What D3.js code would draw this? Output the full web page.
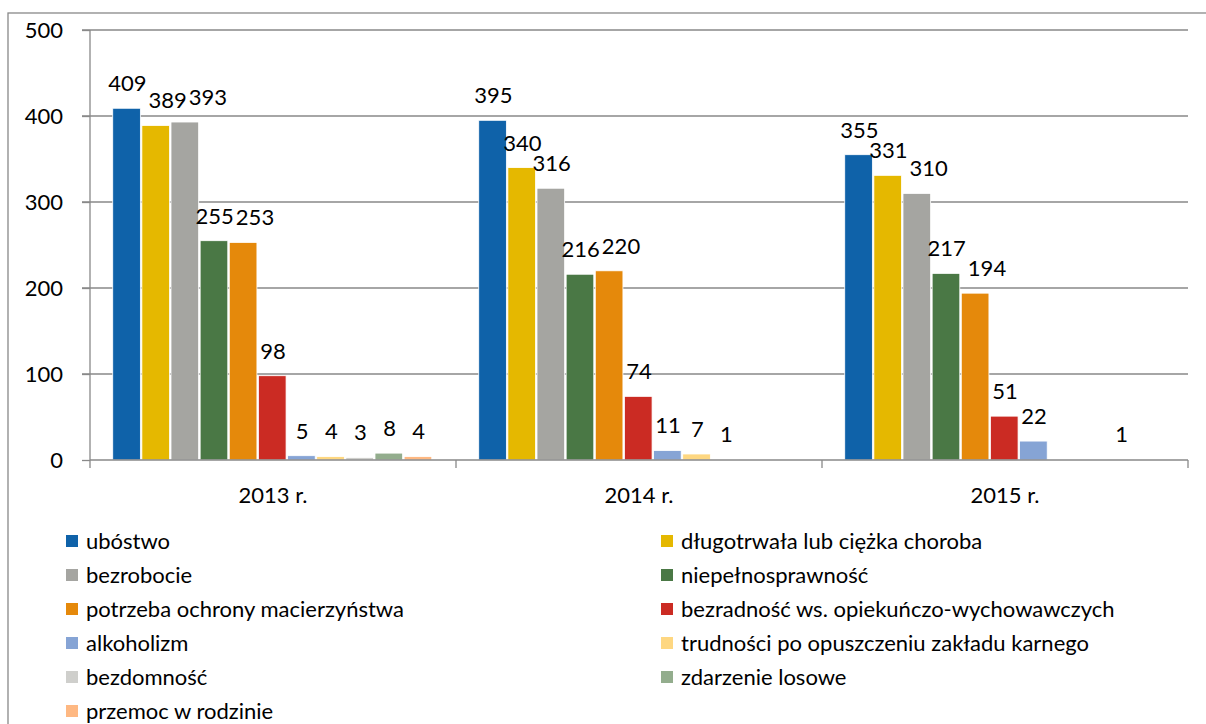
<!DOCTYPE html>
<html>
<head>
<meta charset="UTF-8">
<title>Powody udzielania pomocy</title>
<script src="https://d3js.org/d3.v7.min.js"></script>
<style>
  body { margin: 0; background: #fff; }
  svg text { font-family: Lato, "Open Sans", sans-serif; fill: #000; }
</style>
</head>
<body>
<div id="chart"></div>
<script>
// data
var years = ["2013 r.", "2014 r.", "2015 r."];
var series = [
  "ubóstwo",
  "długotrwała lub ciężka choroba",
  "bezrobocie",
  "niepełnosprawność",
  "potrzeba ochrony macierzyństwa",
  "bezradność ws. opiekuńczo-wychowawczych",
  "alkoholizm",
  "trudności po opuszczeniu zakładu karnego",
  "bezdomność",
  "zdarzenie losowe",
  "przemoc w rodzinie"
];
var colors = ["#0f62a9", "#e5b800", "#a5a5a1", "#4a7845", "#e5890b", "#cb2b23",
              "#86a4d5", "#fed781", "#cfcfcc", "#93ad8d", "#feb882"];
var values2013 = [409, 389, 393, 255, 253, 98, 5, 4, 3, 8, 4];
var values2014 = [395, 340, 316, 216, 220, 74, 11, 7, 1, null, null];
var values2015 = [355, 331, 310, 217, 194, 51, 22, null, null, 1, null];
var yTicks = [0, 100, 200, 300, 400, 500];

var data = [values2013, values2014, values2015];

var W = 1206, H = 724;
var svg = d3.select("#chart").append("svg")
    .attr("width", W).attr("height", H);

// outer frame
svg.append("rect")
    .attr("x", 8).attr("y", 13).attr("width", W).attr("height", H)
    .attr("fill", "none").attr("stroke", "#898989").attr("stroke-width", 1.3);

var plot = {left: 90, right: 1188, top: 30, bottom: 460};

var x0 = d3.scaleBand().domain(years).range([plot.left, plot.right]).padding(0);
var x1 = d3.scaleBand().domain(d3.range(series.length))
    .range([0, x0.bandwidth()]).paddingInner(0).paddingOuter(0.78);
var y = d3.scaleLinear().domain([0, 500]).range([plot.bottom, plot.top]);

// grid lines
svg.append("g").selectAll("line").data(yTicks.slice(1)).enter().append("line")
    .attr("x1", plot.left - 8).attr("x2", plot.right)
    .attr("y1", function(d) { return y(d); }).attr("y2", function(d) { return y(d); })
    .attr("stroke", "#898989").attr("stroke-width", 1.3);

// y axis
var yAxis = svg.append("g")
    .attr("transform", "translate(" + plot.left + ",0)")
    .call(d3.axisLeft(y).tickValues(yTicks).tickSize(8).tickPadding(19));
yAxis.select(".domain").remove();
yAxis.selectAll(".tick line").attr("stroke", "#898989").attr("stroke-width", 1.3);
yAxis.selectAll(".tick text").style("font-size", "22px").attr("dy", "0.36em");
svg.append("line")
    .attr("x1", plot.left).attr("x2", plot.left)
    .attr("y1", plot.top).attr("y2", plot.bottom + 8)
    .attr("stroke", "#898989").attr("stroke-width", 1.3);

// bars
var groups = svg.append("g").selectAll("g").data(data).enter().append("g")
    .attr("transform", function(d, i) { return "translate(" + x0(years[i]) + ",0)"; });

groups.selectAll("rect").data(function(d) {
    return d.map(function(v, i) { return {i: i, v: v}; }).filter(function(c) { return c.v != null; });
}).enter().append("rect")
    .attr("x", function(c) { return x1(c.i); })
    .attr("width", x1.bandwidth() - 1.5)
    .attr("y", function(c) { return y(c.v); })
    .attr("height", function(c) { return y(0) - y(c.v); })
    .attr("fill", function(c) { return colors[c.i]; })
    .attr("stroke", "#fff").attr("stroke-width", 0.8);

// value labels: centred above the bar, pushed right when they would hit the previous one
groups.each(function(d) {
    var g = d3.select(this);
    var prev = null;
    d.forEach(function(v, i) {
        if (v == null) return;
        var t = g.append("text")
            .attr("text-anchor", "middle")
            .style("font-size", "22px")
            .attr("dy", "0.36em")
            .text(v);
        var w = t.node().getComputedTextLength();
        var cx = x1(i) + x1.bandwidth() / 2;
        var cy = y(v) - 25;
        var box = {l: cx - w / 2, r: cx + w / 2, t: cy - 10, b: cy + 10};
        if (prev && box.l < prev.r && box.t < prev.b && box.b > prev.t) {
            var shift = prev.r + 2 - box.l;
            cx += shift; box.l += shift; box.r += shift;
        }
        t.attr("x", cx).attr("y", cy);
        prev = box;
    });
});

// x axis
svg.append("line")
    .attr("x1", plot.left).attr("x2", plot.right)
    .attr("y1", plot.bottom).attr("y2", plot.bottom)
    .attr("stroke", "#898989").attr("stroke-width", 1.3);
svg.append("g").selectAll("line").data(years).enter().append("line")
    .attr("x1", function(d) { return x0(d) + x0.bandwidth(); })
    .attr("x2", function(d) { return x0(d) + x0.bandwidth(); })
    .attr("y1", plot.bottom).attr("y2", plot.bottom + 8)
    .attr("stroke", "#898989").attr("stroke-width", 1.3);
svg.append("g").selectAll("text").data(years).enter().append("text")
    .attr("x", function(d) { return x0(d) + x0.bandwidth() / 2; })
    .attr("y", 495)
    .attr("dy", "0.36em")
    .attr("text-anchor", "middle")
    .style("font-size", "22px")
    .text(function(d) { return d; });

// legend, two columns filled row by row
var legend = svg.append("g").selectAll("g").data(series).enter().append("g")
    .attr("transform", function(d, i) {
        var col = i % 2, row = Math.floor(i / 2);
        return "translate(" + (col ? 661 : 66) + "," + (535 + row * 34) + ")";
    });
legend.append("rect")
    .attr("width", 12).attr("height", 12)
    .attr("fill", function(d, i) { return colors[i]; });
legend.append("text")
    .attr("x", 20).attr("y", 6)
    .attr("dy", "0.36em")
    .style("font-size", "22px")
    .text(function(d) { return d; });
</script>
</body>
</html>
